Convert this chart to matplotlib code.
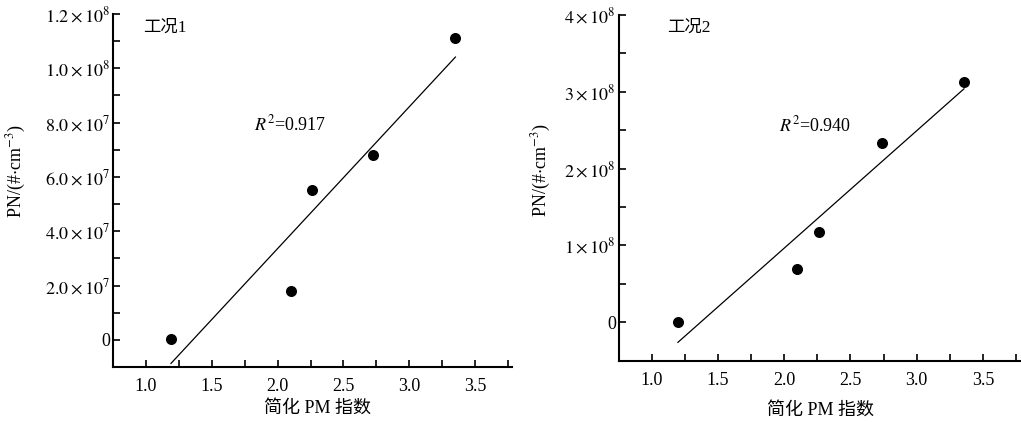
import numpy as np
import matplotlib
matplotlib.use("Agg")
import matplotlib.pyplot as plt
from matplotlib.ticker import MultipleLocator

plt.rcParams['font.family'] = ['Liberation Serif', 'Noto Sans CJK SC']
plt.rcParams['mathtext.fontset'] = 'stix'

# 工况1
x1 = [1.19, 2.10, 2.26, 2.725, 3.35]
y1 = [0.03e7, 1.80e7, 5.52e7, 6.82e7, 11.13e7]
yt1 = [0, 2e7, 4e7, 6e7, 8e7, 1.0e8, 1.2e8]
yl1 = ['0', r'$2.0\times10^{7}$', r'$4.0\times10^{7}$', r'$6.0\times10^{7}$',
       r'$8.0\times10^{7}$', r'$1.0\times10^{8}$', r'$1.2\times10^{8}$']

# 工况2
x2 = [1.197, 2.094, 2.26, 2.735, 3.357]
y2 = [0.01e8, 0.69e8, 1.17e8, 2.34e8, 3.13e8]
yt2 = [0, 1e8, 2e8, 3e8, 4e8]
yl2 = ['0', r'$1\times10^{8}$', r'$2\times10^{8}$', r'$3\times10^{8}$', r'$4\times10^{8}$']

xt = [1.0, 1.5, 2.0, 2.5, 3.0, 3.5]
r2_text = [r'$R^2$=0.917', r'$R^2$=0.940']
case_text = ['工况1', '工况2']

fig = plt.figure(figsize=(10.21, 4.22), dpi=100)
ax1 = fig.add_axes([0.1107, 0.1303, 0.3908, 0.8365])
ax2 = fig.add_axes([0.606, 0.1453, 0.393, 0.819])

setups = [
    (ax1, x1, y1, yt1, yl1, (-1e7, 1.2e8), 1e7, 0),
    (ax2, x2, y2, yt2, yl2, (-0.5e8, 4e8), 0.5e8, 1),
]
lab_pos = [((-0.213, 0.555), (0.512, -0.093), (0.075, 0.96), (0.353, 0.686)),
           ((-0.164, 0.552), (0.504, -0.119), (0.12, 0.962), (0.40, 0.682))]

for ax, xs, ys, yt, yl, ylim, ymin, k in setups:
    xs = np.array(xs)
    ys = np.array(ys)
    ax.scatter(xs, ys, s=48, color='black', zorder=3)
    # 线性拟合
    p = np.polyfit(xs, ys, 1)
    xf = np.array([xs.min(), xs.max()])
    ax.plot(xf, np.polyval(p, xf), color='black', lw=0.9)

    ax.set_xlim(0.75, 3.78)
    ax.set_ylim(*ylim)
    ax.set_xticks(xt)
    ax.set_xticklabels(['%.1f' % v for v in xt])
    ax.xaxis.set_minor_locator(MultipleLocator(0.25))
    ax.set_yticks(yt)
    ax.set_yticklabels(yl)
    ax.yaxis.set_minor_locator(MultipleLocator(ymin))
    ax.tick_params(axis='both', which='both', direction='in', length=5, width=1.2,
                   labelsize=13)
    ax.tick_params(axis='x', pad=8)
    ax.tick_params(axis='y', pad=2)
    for s in ['top', 'right']:
        ax.spines[s].set_visible(False)
    for s in ['left', 'bottom']:
        ax.spines[s].set_linewidth(1.5)

    yc, xc, tc, rc = lab_pos[k]
    ax.set_ylabel(r'PN/(#$\cdot$cm$^{-3}$)', fontsize=13)
    ax.yaxis.set_label_coords(*yc)
    ax.set_xlabel('简化 PM 指数', fontsize=13)
    ax.xaxis.set_label_coords(*xc)
    ax.text(tc[0], tc[1], case_text[k], transform=ax.transAxes, fontsize=12.5,
            va='center', ha='left')
    ax.text(rc[0], rc[1], r2_text[k], transform=ax.transAxes, fontsize=13,
            va='center', ha='left')

fig.savefig('out.png', dpi=100)
